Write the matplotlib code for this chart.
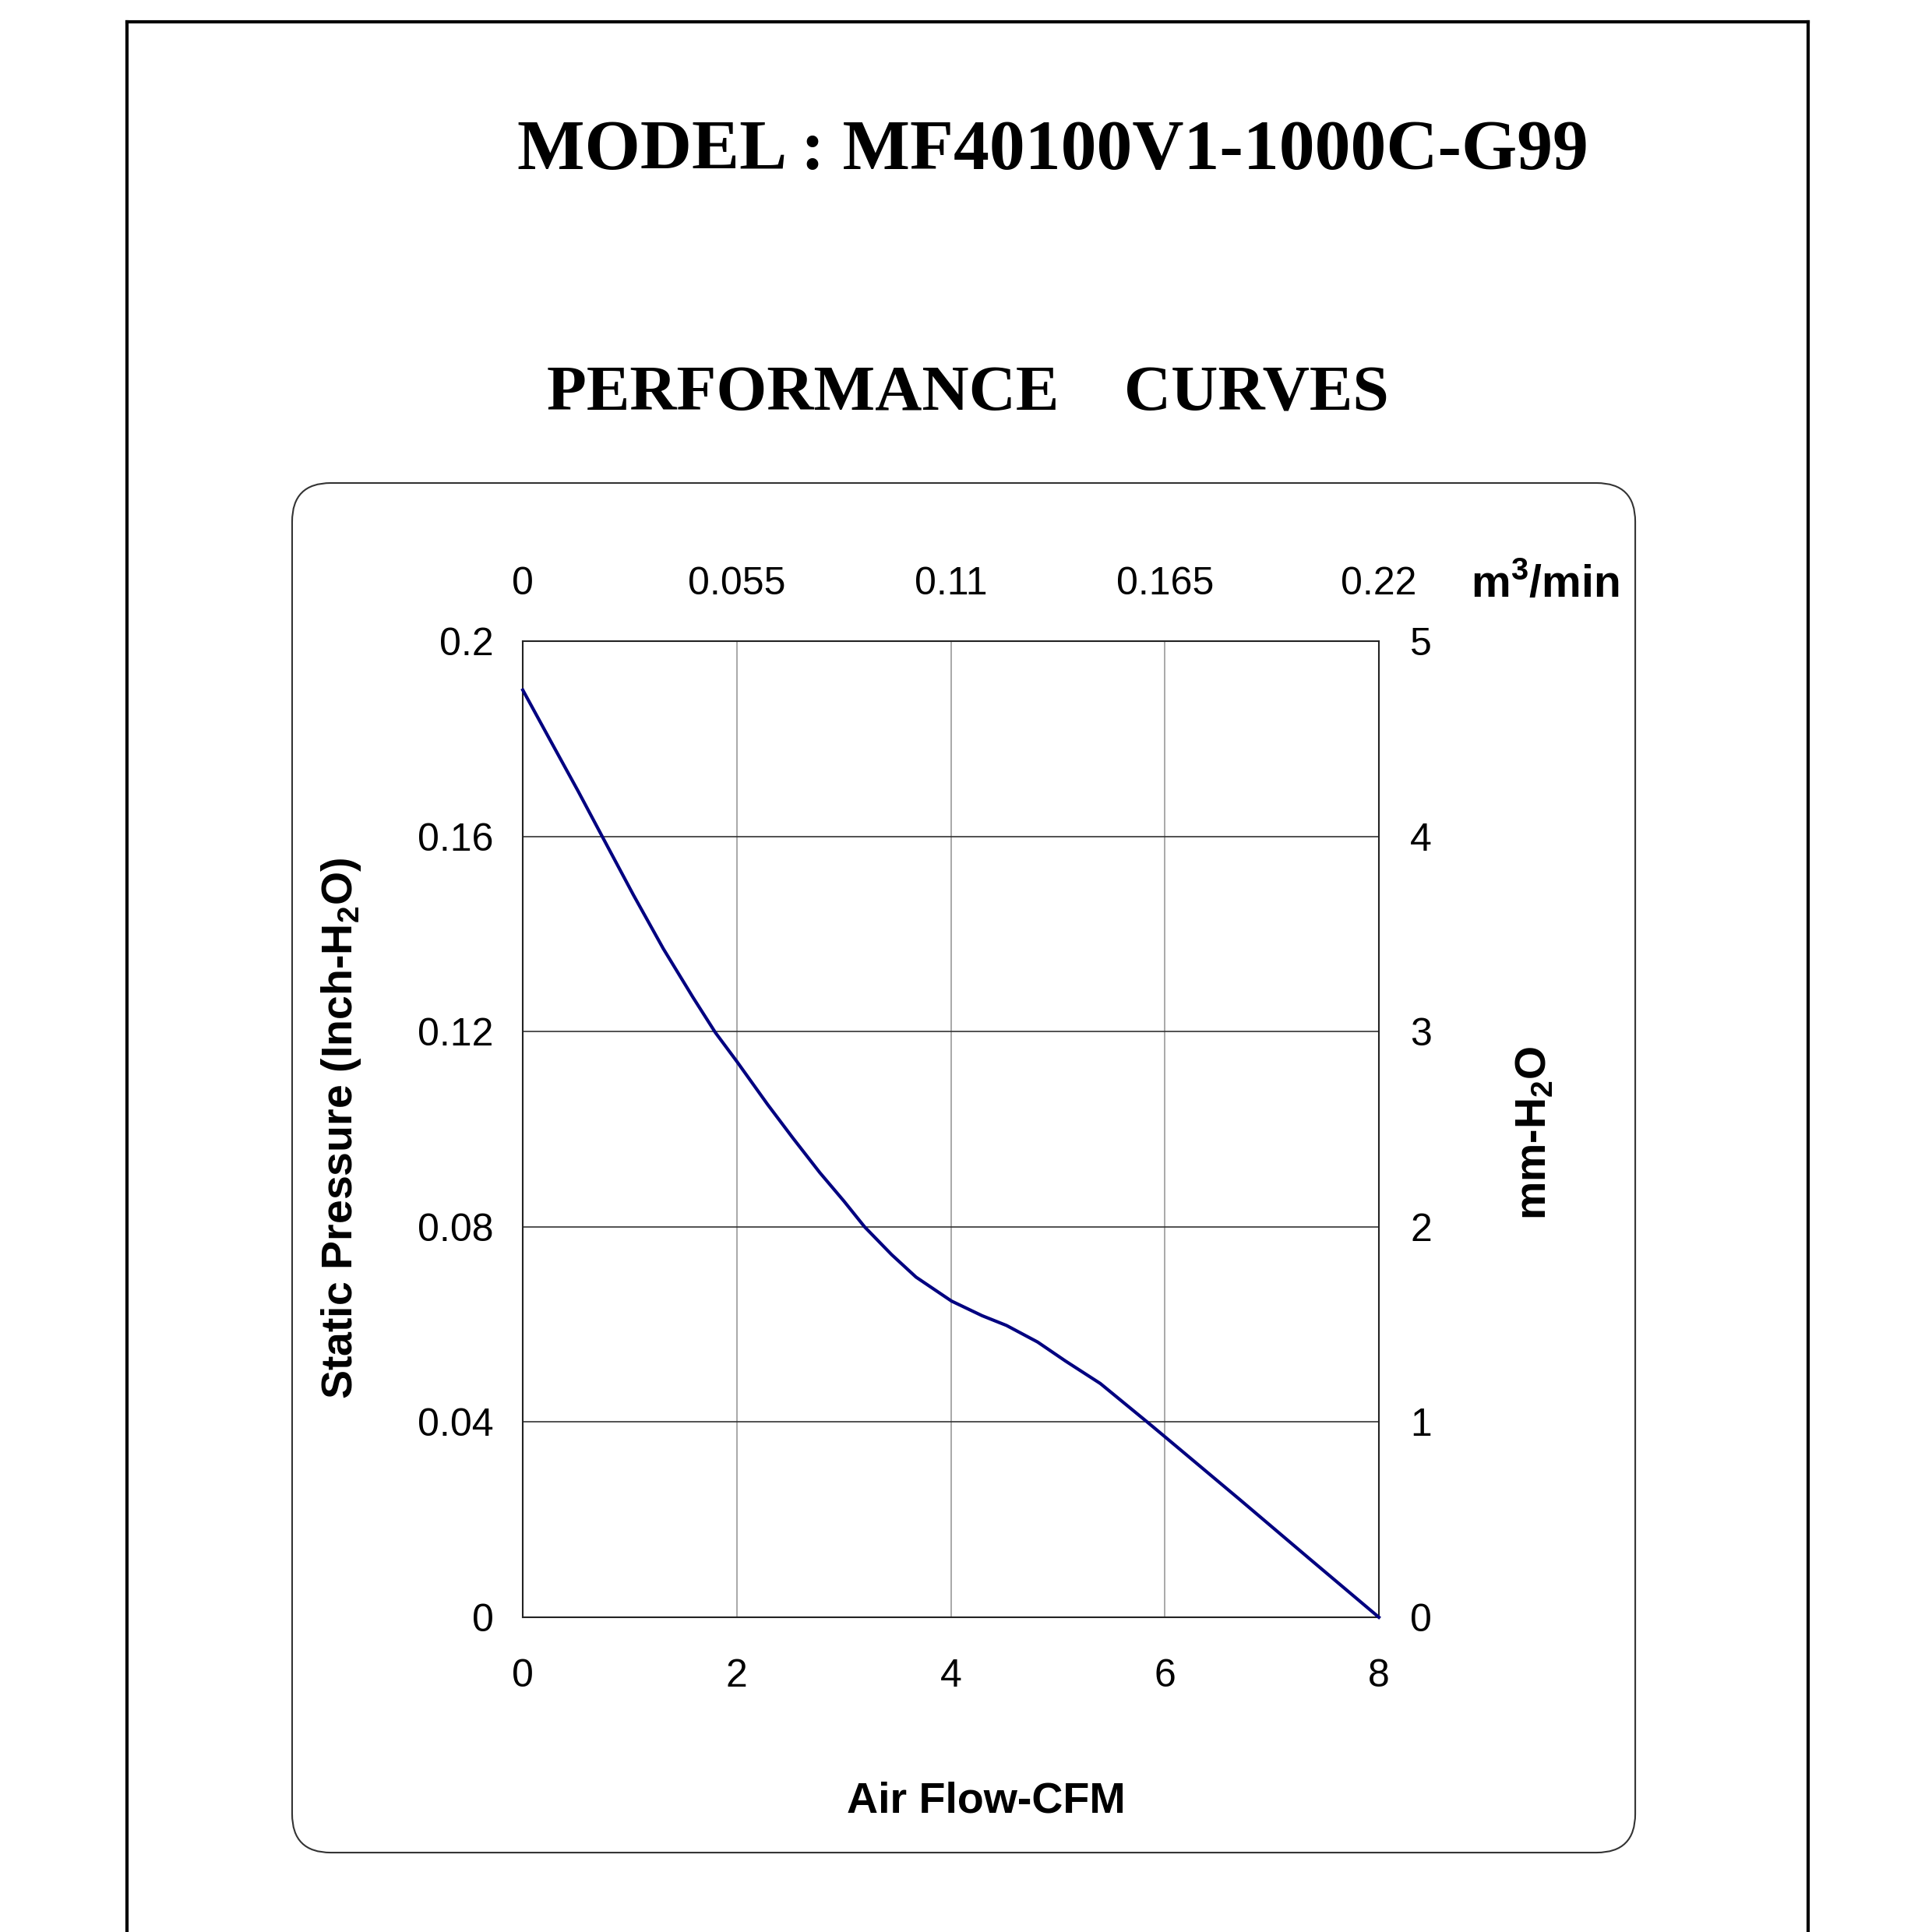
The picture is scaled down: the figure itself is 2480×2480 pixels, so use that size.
import matplotlib
matplotlib.use("Agg")
import matplotlib.pyplot as plt
from matplotlib.lines import Line2D
from matplotlib.patches import FancyBboxPatch

# fan curve (CFM vs inch H2O)
cfm = [0, 0.254, 0.519, 0.742, 1.034, 1.313, 1.591, 1.80, 2.0, 2.287, 2.524, 2.776, 3.0,
       3.194, 3.447, 3.675, 4.006, 4.292, 4.52, 4.811, 5.072, 5.397, 5.836, 6.0, 6.696, 7.346, 8.0]
pressure = [0.190, 0.1798, 0.1692, 0.160, 0.148, 0.137, 0.127, 0.1198, 0.1139, 0.1051, 0.0982,
            0.0911, 0.0853, 0.080, 0.0743, 0.0697, 0.0648, 0.0618, 0.0598, 0.0564, 0.0525,
            0.0479, 0.040, 0.0370, 0.0242, 0.0121, 0.0]

x_ticks = [0, 2, 4, 6, 8]
y_ticks = [0, 0.04, 0.08, 0.12, 0.16, 0.2]
y_tick_labels = ["0", "0.04", "0.08", "0.12", "0.16", "0.2"]
mm_ticks = [0, 1, 2, 3, 4, 5]
m3_ticks = [0, 0.055, 0.11, 0.165, 0.22]
m3_tick_labels = ["0", "0.055", "0.11", "0.165", "0.22"]

plt.rcParams["font.family"] = ["Liberation Sans", "DejaVu Sans"]
plt.rcParams["mathtext.fontset"] = "custom"
plt.rcParams["mathtext.rm"] = "Liberation Sans"
plt.rcParams["mathtext.bf"] = "Liberation Sans:bold"

fig = plt.figure(figsize=(24.8, 24.8), dpi=100)

# outer page frame (bottom edge runs off the page)
frame_kw = dict(color="black", lw=3, transform=fig.transFigure)
fig.add_artist(Line2D([0.0657, 0.0657], [0, 0.9887], **frame_kw))
fig.add_artist(Line2D([0.0657, 0.9359], [0.9887, 0.9887], **frame_kw))
fig.add_artist(Line2D([0.9359, 0.9359], [0.9887, 0], **frame_kw))

# rounded box around the chart
box = FancyBboxPatch((0.1512, 0.0411), 0.6952, 0.7089,
                     boxstyle="round,pad=0,rounding_size=0.02",
                     transform=fig.transFigure, fill=False, ec="#333333", lw=1.5)
fig.add_artist(box)

fig.text(0.545, 0.9125, "MODEL : MF40100V1-1000C-G99", ha="center", va="baseline",
         family="Liberation Serif", weight="bold", size=66)
fig.text(0.501, 0.7875, "PERFORMANCE    CURVES", ha="center", va="baseline",
         family="Liberation Serif", weight="bold", size=60)

ax = fig.add_axes([0.2706, 0.1629, 0.4431, 0.5052])
ax.plot(cfm, pressure, color="#000080", lw=3.0, zorder=5, clip_on=False,
        solid_joinstyle="round")
ax.set_xlim(0, 8)
ax.set_ylim(0, 0.2)
ax.set_xticks(x_ticks)
ax.set_yticks(y_ticks)
ax.set_yticklabels(y_tick_labels)
ax.tick_params(axis="x", length=0, pad=38, labelsize=36)
ax.tick_params(axis="y", length=0, pad=27, labelsize=36)
ax.xaxis.grid(True, color="#9a9a9a", lw=1.2)
ax.yaxis.grid(True, color="#333333", lw=1.2)
for sp in ax.spines.values():
    sp.set_color("#222222")
    sp.set_linewidth(1.5)

ax_r = ax.twinx()
ax_r.set_ylim(0, 5)
ax_r.set_yticks(mm_ticks)
ax_r.tick_params(axis="y", length=0, pad=29, labelsize=36)

ax_t = ax.twiny()
ax_t.set_xlim(0, 0.22)
ax_t.set_xticks(m3_ticks)
ax_t.set_xticklabels(m3_tick_labels)
ax_t.tick_params(axis="x", length=0, pad=36, labelsize=36)
for a in (ax_r, ax_t):
    for sp in a.spines.values():
        sp.set_visible(False)

fig.text(0.5105, 0.0617, "Air Flow-CFM", ha="center", va="baseline", weight="bold", size=40)
fig.text(0.1766, 0.4161, r"Static Pressure (Inch-H$_\mathbf{2}$O)", rotation=90,
         ha="center", va="center", weight="bold", size=40)
fig.text(0.7944, 0.4137, r"mm-H$_\mathbf{2}$O", rotation=90,
         ha="center", va="center", weight="bold", size=40)
fig.text(0.7996, 0.6907, r"m$^\mathbf{3}$/min", ha="center", va="baseline", weight="bold", size=41)

fig.savefig("out.png", dpi=100, facecolor="white")
